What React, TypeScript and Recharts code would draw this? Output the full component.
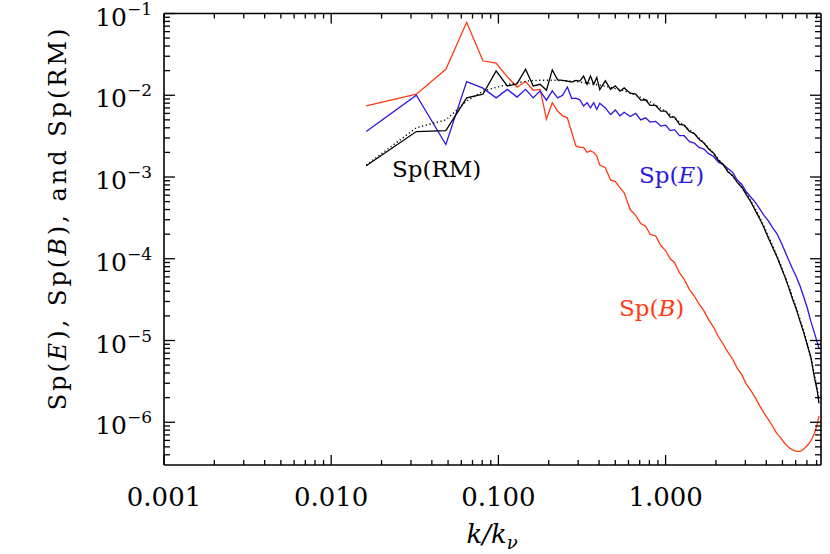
import React from 'react';
import { LineChart, Line, XAxis, YAxis } from 'recharts';

// wavenumber k/k_nu
const K = [0.0162, 0.0323, 0.0485, 0.0646, 0.0808, 0.0969, 0.1131, 0.1292, 0.1454, 0.1615, 0.1777, 0.1938, 0.2100, 0.2261, 0.2423, 0.2584, 0.2746, 0.2907, 0.3069, 0.3230, 0.3392, 0.3553, 0.3715, 0.3876, 0.4038,
  0.4361, 0.4684, 0.5007, 0.5330, 0.5653, 0.6137, 0.6622, 0.7106, 0.7591, 0.8075,
  0.8721, 0.9367, 1.0013, 1.0659, 1.1305, 1.2113, 1.2920, 1.3889, 1.4858, 1.5827,
  1.6958, 1.8088, 1.9380, 2.0672, 2.2126, 2.3579, 2.5194, 2.6809, 2.8586, 3.0362,
  3.2300, 3.4400, 3.6499, 3.8760, 4.1183, 4.3605, 4.6189, 4.8935, 5.1680, 5.4587,
  5.7494, 6.0563, 6.3793, 6.7023, 7.0414, 7.3967, 7.7520, 8.0750, 8.2688];

// Sp(B) - red
const SP_B = [0.0074, 0.0103, 0.0208, 0.078, 0.0264, 0.0247, 0.0168, 0.0126, 0.0147, 0.0115, 0.0118, 0.0051, 0.0081, 0.0064, 0.0056, 0.0053, 0.0035, 0.0024, 0.0023, 0.0023, 0.0020, 0.0021, 0.0020, 0.0018, 0.0014,
  0.0013, 0.00092, 0.00088, 0.00074, 0.00064, 0.00040, 0.00034, 0.00027, 0.00025, 0.00020,
  0.00019, 0.000145, 0.000125, 0.000100, 9.0e-5, 6.7e-5, 5.6e-5, 4.2e-5, 3.5e-5, 2.8e-5,
  2.3e-5, 1.8e-5, 1.45e-5, 1.12e-5, 9.0e-6, 7.2e-6, 5.9e-6, 4.6e-6, 3.8e-6, 2.95e-6,
  2.45e-6, 2.0e-6, 1.6e-6, 1.3e-6, 1.08e-6, 9.0e-7, 7.3e-7, 6.4e-7, 5.5e-7, 4.9e-7,
  4.6e-7, 4.4e-7, 4.4e-7, 4.7e-7, 5.2e-7, 5.9e-7, 7.3e-7, 9.5e-7, 1.2e-6];

// Sp(E) - blue
const SP_E = [0.0036, 0.0100, 0.0025, 0.0147, 0.0122, 0.0093, 0.0118, 0.0095, 0.0118, 0.0093, 0.0113, 0.0087, 0.0113, 0.0093, 0.0100, 0.0126, 0.0091, 0.0092, 0.0088, 0.0074, 0.0081, 0.0070, 0.0081, 0.0067, 0.0080,
  0.0070, 0.0058, 0.0066, 0.0056, 0.0062, 0.0055, 0.0060, 0.0050, 0.0053, 0.0047,
  0.0048, 0.0042, 0.0043, 0.0037, 0.0038, 0.0032, 0.0032, 0.0027, 0.0026, 0.0023,
  0.0022, 0.00193, 0.00178, 0.00152, 0.00142, 0.00127, 0.00114, 0.00092, 0.00081, 0.00066,
  0.00057, 0.00049, 0.00041, 0.00034, 0.00029, 0.00024, 0.000205, 0.00016, 0.000124, 9.5e-5,
  7.5e-5, 6.0e-5, 4.6e-5, 3.4e-5, 2.5e-5, 1.7e-5, 1.25e-5, 9.5e-6, 8.0e-6];

// Sp(RM) - black
const SP_RM = [0.00137, 0.0036, 0.0037, 0.0093, 0.0103, 0.0199, 0.0130, 0.0138, 0.0208, 0.0130, 0.0136, 0.0115, 0.0204, 0.0154, 0.0152, 0.0149, 0.0145, 0.0152, 0.0149, 0.0172, 0.0136, 0.0172, 0.0136, 0.0165, 0.0117,
  0.0150, 0.0118, 0.0130, 0.0112, 0.0123, 0.0106, 0.0103, 0.0087, 0.0088, 0.0075,
  0.0075, 0.0064, 0.0064, 0.0054, 0.0054, 0.0044, 0.0043, 0.0036, 0.0034, 0.0029,
  0.0026, 0.0022, 0.00195, 0.0016, 0.00142, 0.00116, 0.00104, 0.00086, 0.00075, 0.00061,
  0.00050, 0.00039, 0.00031, 0.00024, 0.00018, 0.000138, 0.000107, 8.0e-5, 6.0e-5, 4.4e-5,
  3.2e-5, 2.4e-5, 1.7e-5, 1.25e-5, 8.8e-6, 6.2e-6, 3.6e-6, 2.4e-6, 1.7e-6];

// smooth model of Sp(RM) - dotted
const FIT_K = [0.0162, 0.0323, 0.0485, 0.0646, 0.0808, 0.0969, 0.1131, 0.1292, 0.1454, 0.1615,
  0.1938, 0.2261, 0.2584, 0.2907, 0.3230, 0.3553, 0.4038, 0.4684, 0.5330, 0.6137,
  0.7106, 0.8075, 0.9367, 1.0659, 1.2113, 1.3889, 1.5827, 1.8088, 2.0672, 2.3579,
  2.6809, 3.0362, 3.4400, 3.8760, 4.3605, 4.8935, 5.4587, 6.0563, 6.7023, 7.3967,
  8.0750, 8.2688];
const FIT_RM = [0.0014, 0.0040, 0.0050, 0.0085, 0.0112, 0.0125, 0.0135, 0.0142, 0.0148, 0.0152,
  0.0153, 0.0152, 0.0150, 0.0147, 0.0143, 0.0139, 0.0133, 0.0125, 0.0117, 0.0107,
  0.0094, 0.0083, 0.0069, 0.0058, 0.0047, 0.0038, 0.0030, 0.00228, 0.00165, 0.00120,
  0.00088, 0.00063, 0.00041, 0.00025, 0.000145, 8.3e-5, 4.6e-5, 2.5e-5, 1.3e-5, 6.2e-6,
  2.6e-6, 1.9e-6];

const X_MAJOR = [0.001, 0.01, 0.1, 1];
const X_LABELS = ['0.001', '0.010', '0.100', '1.000'];
const Y_MAJOR = [1e-6, 1e-5, 1e-4, 1e-3, 1e-2, 1e-1];
const Y_EXP = ['\u22126', '\u22125', '\u22124', '\u22123', '\u22122', '\u22121'];

const X_DOMAIN = [0.001, 8.5];
const Y_DOMAIN = [3e-7, 0.1];

const RED = '#ff3a14';
const BLUE = '#2a17e0';
const FONT = '"DejaVu Serif", serif';

const rows = K.map((k, i) => ({ k, b: SP_B[i], e: SP_E[i], rm: SP_RM[i] }));
const fitRows = FIT_K.map((k, i) => ({ k, fit: FIT_RM[i] }));

const X_TICKS: number[] = [];
for (let e = -3; e <= 0; e++) {
  for (let m = 1; m <= 9; m++) {
    const v = +(m * Math.pow(10, e)).toPrecision(3);
    if (v <= X_DOMAIN[1]) X_TICKS.push(v);
  }
}
const Y_TICKS: number[] = [];
for (let e = -7; e <= -1; e++) {
  for (let m = 1; m <= 9; m++) {
    const v = +(m * Math.pow(10, e)).toPrecision(3);
    if (v > Y_DOMAIN[0] * 1.01 && v <= Y_DOMAIN[1] * 1.0001) Y_TICKS.push(v);
  }
}

const findIdx = (arr: number[], v: number) => arr.findIndex((m) => Math.abs(m - v) < m * 1e-6);

const makeXTick = (side: 'bottom' | 'top') => (props: any) => {
  const { x, y, payload } = props;
  const idx = findIdx(X_MAJOR, payload.value);
  const len = idx >= 0 ? 10 : 5;
  const dir = side === 'bottom' ? -1 : 1;
  return (
    <g>
      <line x1={x} y1={y} x2={x} y2={y + dir * len} stroke="#000" strokeWidth={1.3} />
      {side === 'bottom' && idx >= 0 && (
        <text x={x} y={y + 41} textAnchor="middle" fontFamily={FONT} fontSize={26} fill="#000">
          {X_LABELS[idx]}
        </text>
      )}
    </g>
  );
};

const makeYTick = (side: 'left' | 'right') => (props: any) => {
  const { x, y, payload } = props;
  const idx = findIdx(Y_MAJOR, payload.value);
  const len = idx >= 0 ? 11 : 6;
  const dir = side === 'left' ? 1 : -1;
  return (
    <g>
      <line x1={x} y1={y} x2={x + dir * len} y2={y} stroke="#000" strokeWidth={1.3} />
      {side === 'left' && idx >= 0 && (
        <text x={x - 12} y={y + 12} textAnchor="end" fontFamily={FONT} fill="#000">
          <tspan fontSize={25}>10</tspan>
          <tspan fontSize={17} dy={-11}>{Y_EXP[idx]}</tspan>
        </text>
      )}
    </g>
  );
};

const axisLine = { stroke: '#000', strokeWidth: 1.6 };

export default function App() {
  return (
    <div style={{ position: 'absolute', left: 0, top: 0, width: 830, height: 554, background: '#fff' }}>
      <LineChart width={830} height={554} data={rows} margin={{ top: 12.5, right: 8, bottom: 0, left: 0 }}>
        <XAxis xAxisId="b" dataKey="k" type="number" scale="log" domain={X_DOMAIN} allowDataOverflow
          ticks={X_TICKS} interval={0} tickSize={0} tickMargin={0} tickLine={false}
          tick={makeXTick('bottom')} axisLine={axisLine} height={89} />
        <XAxis xAxisId="t" orientation="top" dataKey="k" type="number" scale="log" domain={X_DOMAIN} allowDataOverflow
          ticks={X_TICKS} interval={0} tickSize={0} tickMargin={0} tickLine={false}
          tick={makeXTick('top')} axisLine={axisLine} height={1} />
        <YAxis yAxisId="l" type="number" scale="log" domain={Y_DOMAIN} allowDataOverflow
          ticks={Y_TICKS} interval={0} tickSize={0} tickMargin={0} tickLine={false}
          tick={makeYTick('left')} axisLine={axisLine} width={164} />
        <YAxis yAxisId="r" orientation="right" type="number" scale="log" domain={Y_DOMAIN} allowDataOverflow
          ticks={Y_TICKS} interval={0} tickSize={0} tickMargin={0} tickLine={false}
          tick={makeYTick('right')} axisLine={axisLine} width={1} />
        <Line xAxisId="b" yAxisId="l" type="linear" dataKey="b" stroke={RED} strokeWidth={1.3} dot={false} isAnimationActive={false} />
        <Line xAxisId="b" yAxisId="l" type="linear" dataKey="e" stroke={BLUE} strokeWidth={1.3} dot={false} isAnimationActive={false} />
        <Line xAxisId="b" yAxisId="l" type="linear" data={fitRows} dataKey="fit" stroke="#000" strokeWidth={1.4} strokeDasharray="1.2 2.6" dot={false} isAnimationActive={false} />
        <Line xAxisId="b" yAxisId="l" type="linear" dataKey="rm" stroke="#000" strokeWidth={1.3} dot={false} isAnimationActive={false} />
        <text x={492} y={543} textAnchor="middle" fontFamily={FONT} fontSize={26} fontStyle="italic" fill="#000">
          k/k<tspan fontSize={18} dy={6}>{'\u03bd'}</tspan>
        </text>
        <text transform="rotate(-90)" x={-218} y={66} textAnchor="middle" fontFamily={FONT} fontSize={24} fill="#000" style={{ letterSpacing: '3px' }}>
          Sp(<tspan fontStyle="italic">E</tspan>), Sp(<tspan fontStyle="italic">B</tspan>), and Sp(RM)
        </text>
        <text x={392} y={177} fontFamily={FONT} fontSize={23} fill="#000">Sp(RM)</text>
        <text x={639} y={183} fontFamily={FONT} fontSize={23} fill={BLUE}>Sp(<tspan fontStyle="italic">E</tspan>)</text>
        <text x={619} y={316} fontFamily={FONT} fontSize={23} fill={RED}>Sp(<tspan fontStyle="italic">B</tspan>)</text>
      </LineChart>
    </div>
  );
}
